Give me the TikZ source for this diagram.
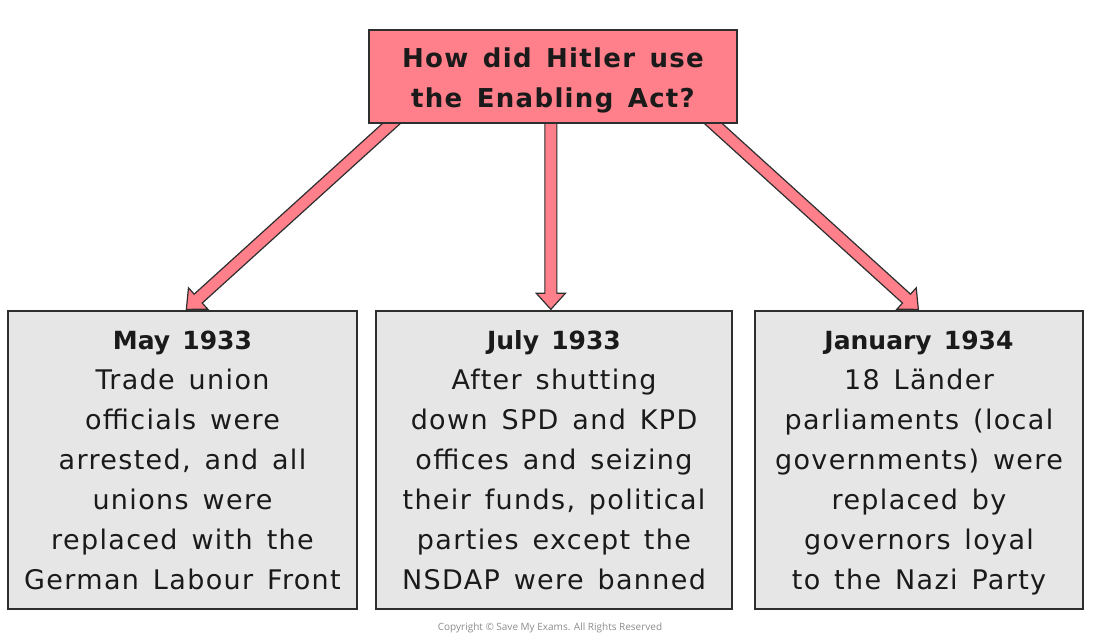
\documentclass[tikz,border=0pt]{standalone}
\usepackage{fontspec}
\setmainfont{DejaVu Sans}[LetterSpace=5,WordSpace=1.4]
\newfontfamily\copyfont{Open Sans}
\usetikzlibrary{calc,backgrounds}
\definecolor{pinkf}{HTML}{FF7F8A}
\definecolor{grayf}{HTML}{E6E6E6}
\definecolor{edge}{HTML}{2E2E2E}
\definecolor{txt}{HTML}{1A1A1A}
\newcommand\fatarrow[2]{%
  \coordinate (h) at ($(#2)!16pt!(#1)$);
  \draw[arrowsty] ($(#1)!6pt!90:(#2)$) -- ($(h)!6pt!-90:(#1)$) -- ($(h)!14.5pt!-90:(#1)$) -- (#2)
    -- ($(h)!14.5pt!90:(#1)$) -- ($(h)!6pt!90:(#1)$) -- ($(#1)!6pt!-90:(#2)$) -- cycle;}
\tikzset{
  qbox/.style={draw=edge, line width=1.3pt, fill=pinkf, minimum width=368pt, minimum height=93pt,
    inner sep=0pt, align=center, text=txt, font=\bfseries\fontsize{26}{40}\selectfont},
  ebox/.style={draw=edge, line width=1.3pt, fill=grayf, minimum height=298pt,
    inner sep=0pt, align=center, text=txt, font=\fontsize{27}{40}\selectfont},
  arrowsty/.style={draw=edge, line width=1.2pt, fill=pinkf, line join=miter},
}
\newcommand\hdr[1]{{\bfseries\fontsize{25}{40}\selectfont\addfontfeatures{LetterSpace=0}\rule{0pt}{26pt}#1}}
\newcommand\lastln[1]{#1\rule[-7pt]{0pt}{7pt}}
\begin{document}
\begin{tikzpicture}[x=1pt,y=-1pt]
\useasboundingbox (0,0) rectangle (1100,644);

\node[qbox] (q) at (553,76.5) {\rule{0pt}{28.6pt}How did Hitler use\\the Enabling Act?\rule[-7pt]{0pt}{7pt}};
\node[ebox, minimum width=349pt] (b1) at (182.5,460) {\hdr{May 1933}\\Trade union\\officials were\\arrested, and all\\unions were\\replaced with the\\\lastln{German Labour Front}};
\node[ebox, minimum width=356pt] (b2) at (554,460) {\hdr{July 1933}\\After shutting\\down SPD and KPD\\offices and seizing\\their funds, political\\parties except the\\\lastln{NSDAP were banned}};
\node[ebox, minimum width=328pt] (b3) at (919,460) {\hdr{January 1934}\\18 Länder\\parliaments (local\\governments) were\\replaced by\\governors loyal\\\lastln{to the Nazi Party}};

\coordinate (s1) at ($(q.south west)+(37.8,-13.5)$);
\coordinate (t1) at ($(b1.north west)+(179,-1)$);
\coordinate (s2) at ($(q.south west)+(182.5,-13)$);
\coordinate (t2) at ($(b2.north west)+(175.5,-1)$);
\coordinate (s3) at ($(q.south west)+(330.2,-13.5)$);
\coordinate (t3) at ($(b3.north west)+(164,-1)$);

\begin{scope}[on background layer]
\fill[white] (0,0) rectangle (1100,644);
\fatarrow{s1}{t1}
\fatarrow{s2}{t2}
\fatarrow{s3}{t3}
\end{scope}

\node[font=\copyfont\fontsize{10}{12}\selectfont, text=black!45] (cr) at (550,628) {Copyright © Save My Exams. All Rights Reserved};
\end{tikzpicture}
\end{document}
